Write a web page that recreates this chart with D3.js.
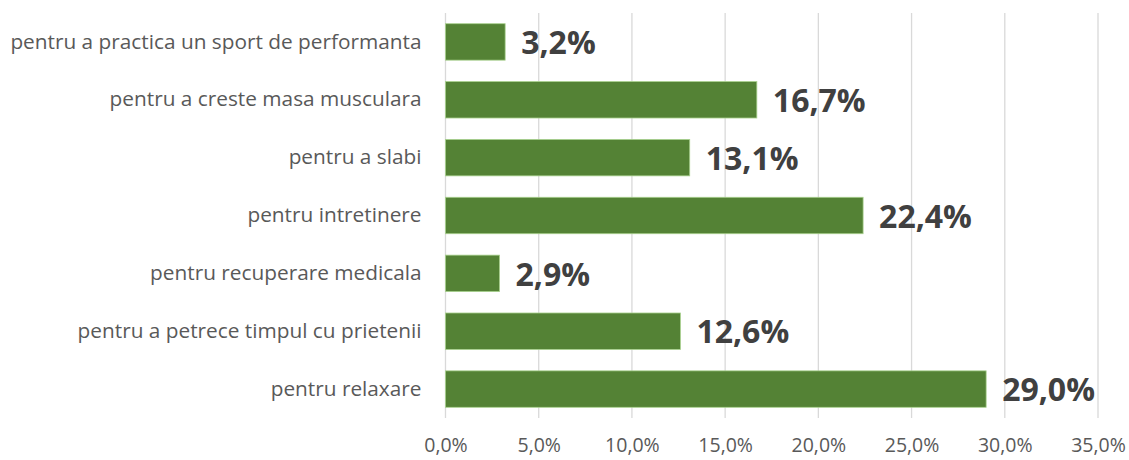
<!DOCTYPE html>
<html><head><meta charset="utf-8">
<script src="https://cdn.jsdelivr.net/npm/d3@7"></script>
<style>body{margin:0;background:#fff;} svg{display:block;}</style>
</head><body>
<svg id="chart" width="1129" height="460"></svg>
<script>
const categories = [
  "pentru a practica un sport de performanta",
  "pentru a creste masa musculara",
  "pentru a slabi",
  "pentru intretinere",
  "pentru recuperare medicala",
  "pentru a petrece timpul cu prietenii",
  "pentru relaxare"
];
const values = [3.2, 16.7, 13.1, 22.4, 2.9, 12.6, 29.0];
const tickValues = [0, 5, 10, 15, 20, 25, 30, 35];

const svg = d3.select("#chart");
const m = {left: 445.5, right: 1098, top: 13, bottom: 418};
const x = d3.scaleLinear().domain([0, 35]).range([m.left, m.right]);
const y = d3.scaleBand().domain(categories).range([m.top, m.bottom]).paddingInner(0.37).paddingOuter(0.185);
const fmt = v => d3.format(".1f")(v).replace(".", ",") + "%";

// gridlines
svg.append("g").selectAll("line").data(tickValues).join("line")
  .attr("x1", d => x(d)).attr("x2", d => x(d))
  .attr("y1", m.top).attr("y2", m.bottom)
  .attr("stroke", "#d9d9d9").attr("stroke-width", 1.3);

// x axis labels
const xAxis = d3.axisBottom(x).tickValues(tickValues).tickFormat(fmt).tickSize(0).tickPadding(0);
const gx = svg.append("g").attr("transform", `translate(0,452)`).call(xAxis);
gx.select(".domain").remove();
gx.selectAll("text").attr("font-family", "Open Sans").attr("font-size", 19.5).attr("fill", "#595959").attr("dy", "0");

// y axis labels
const yAxis = d3.axisLeft(y).tickSize(0).tickPadding(0);
const gy = svg.append("g").attr("transform", `translate(${m.left - 24},0)`).call(yAxis);
gy.select(".domain").remove();
gy.selectAll("text").attr("font-family", "Open Sans").attr("font-size", 20.8).attr("fill", "#595959");

// bars
svg.append("g").selectAll("rect").data(values).join("rect")
  .attr("x", x(0)).attr("y", (d, i) => y(categories[i]))
  .attr("width", d => x(d) - x(0)).attr("height", y.bandwidth())
  .attr("fill", "#548235").attr("stroke", "#a9d18e").attr("stroke-width", 0.8);

// value labels
svg.append("g").selectAll("text").data(values).join("text")
  .attr("x", d => x(d) + 16).attr("y", (d, i) => y(categories[i]) + y.bandwidth() / 2)
  .attr("dy", "0.38em")
  .attr("font-family", "Open Sans").attr("font-weight", "bold").attr("font-size", 32)
  .attr("fill", "#404040").text(d => fmt(d));
</script>
</body></html>
